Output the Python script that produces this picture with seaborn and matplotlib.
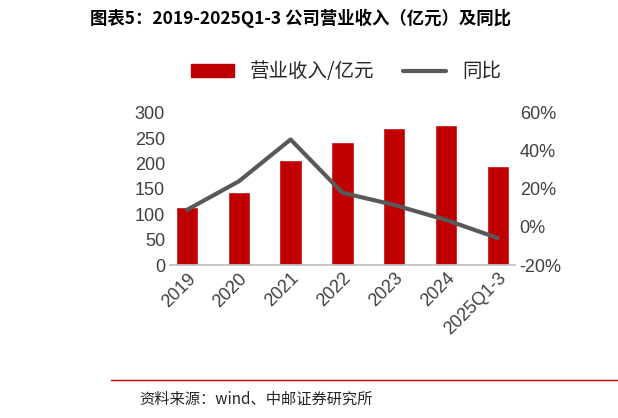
import matplotlib
matplotlib.use("Agg")
import matplotlib.pyplot as plt
import seaborn as sns
import pandas as pd
from matplotlib.lines import Line2D

sns.set_theme(style="white")
plt.rcParams['font.family'] = ['Noto Sans CJK SC', 'DejaVu Sans']

categories = ["2019", "2020", "2021", "2022", "2023", "2024", "2025Q1-3"]
revenue = [114, 144, 207, 243, 270, 276, 195]
yoy = [9, 24, 46, 18, 11.6, 3.7, -5.8]

df = pd.DataFrame({"cat": categories, "rev": revenue, "yoy": yoy})

fig = plt.figure(figsize=(6.18, 4.18), dpi=100)
ax = fig.add_axes([0.275, 0.366, 0.558, 0.364])
sns.barplot(data=df, x="cat", y="rev", color="#C00000", width=0.43, ax=ax, saturation=1)
ax.set_ylim(0, 300)
ax.set_yticks(range(0, 301, 50))
ax.set_xlabel(""); ax.set_ylabel("")
for s in ["top", "right", "left"]:
    ax.spines[s].set_visible(False)
ax.spines["bottom"].set_color("#BFBFBF")
ax.tick_params(axis="y", labelsize=13, colors="#404040", length=0)
ax.tick_params(axis="x", labelsize=13, colors="#404040", length=0, rotation=45)
for t in ax.get_xticklabels() + ax.get_yticklabels():
    t.set_family(['Liberation Sans', 'DejaVu Sans'])
for t in ax.get_xticklabels():
    t.set_ha("right"); t.set_rotation_mode("anchor")

ax2 = ax.twinx()
sns.lineplot(x=list(range(len(categories))), y=yoy, color="#595959", linewidth=3, ax=ax2)
ax2.set_ylim(-20, 60)
ax2.set_yticks(range(-20, 61, 20))
ax2.set_yticklabels([f"{v}%" for v in range(-20, 61, 20)], family=['Liberation Sans', 'DejaVu Sans'])
ax2.tick_params(axis="y", labelsize=13, colors="#404040", length=0)
for s in ["top", "right", "left", "bottom"]:
    ax2.spines[s].set_visible(False)
ax.set_xlim(-0.33, 6.33)

handles = [plt.Rectangle((0, 0), 1, 1, color="#C00000"),
           Line2D([0], [0], color="#595959", lw=3)]
fig.legend(handles, ["营业收入/亿元", "同比"], loc="center", bbox_to_anchor=(0.56, 0.828),
           ncol=2, frameon=False, fontsize=14, handlelength=2.2, columnspacing=1.5)

fig.text(0.145, 0.955, "图表5：2019-2025Q1-3 公司营业收入（亿元）及同比", fontsize=12.5,
         fontweight="heavy", ha="left", va="center", color="#000000")
fig.add_artist(Line2D([0.18, 1], [0.092, 0.092], color="#C00000", lw=1))
fig.text(0.225, 0.045, "资料来源：wind、中邮证券研究所", fontsize=11, ha="left", va="center")

fig.savefig("out.png", dpi=100)
